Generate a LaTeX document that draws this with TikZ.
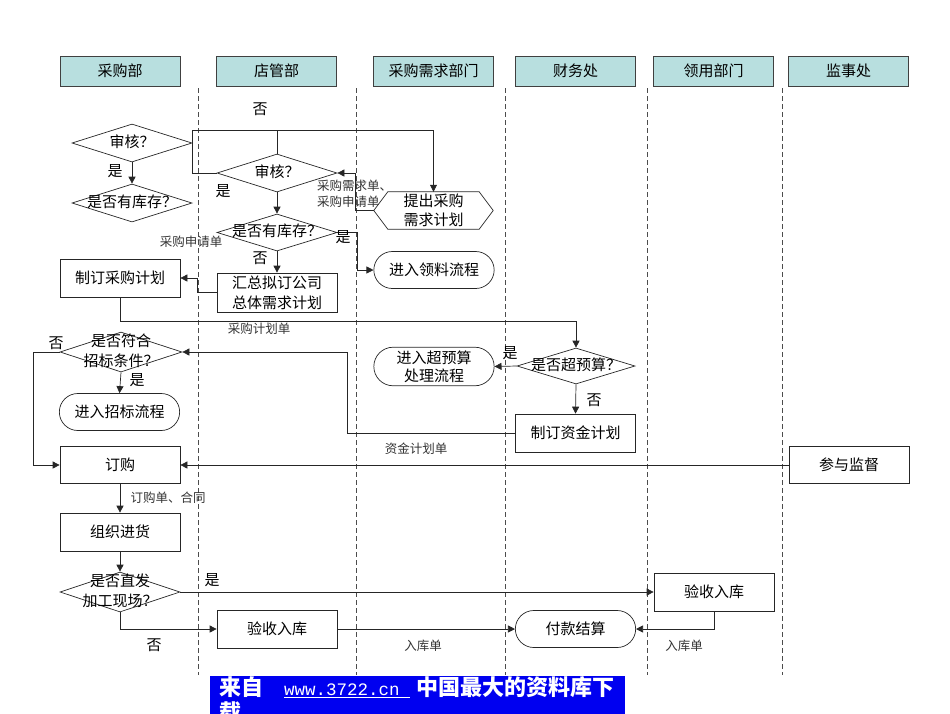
\documentclass[tikz,border=0pt]{standalone}
\usepackage{fontspec}
\setmainfont{Noto Sans CJK SC}
\setmonofont{Liberation Mono}
\usetikzlibrary{positioning,arrows.meta,shapes.geometric,shapes.misc}
\definecolor{laneclr}{HTML}{B8DFDF}
\definecolor{markclr}{HTML}{0000F0}
\newcommand{\dtext}[1]{\makebox[0pt]{\begin{tabular}{@{}c@{}}#1\end{tabular}}}

\begin{document}
\begin{tikzpicture}[
  x=1pt, y=-1pt,
  font=\fontsize{15}{20}\selectfont,
  box/.style={
    rectangle, draw=black!85, line width=0.7pt,
    minimum width=120pt, minimum height=38pt, inner sep=1pt, align=center, fill=white,
  },
  lane/.style={box, fill=laneclr, draw=black!75, minimum height=30pt},
  term/.style={rounded rectangle, draw=black!85, line width=0.7pt, minimum width=127pt, minimum height=37pt, align=center},
  dec/.style={diamond, draw=black!85, line width=0.7pt, minimum width=120pt, minimum height=38pt, inner sep=0pt},
  yesno/.style={inner sep=1pt},
  tag/.style={font=\fontsize{12.5}{16}\selectfont, text=black!80, inner sep=1pt},
  arrow/.style={-{Triangle[length=7pt,width=7pt]}, line width=0.7pt, draw=black!85},
  link/.style={line width=0.7pt, draw=black!85},
  divider/.style={line width=0.7pt, draw=black!70, dash pattern=on 5pt off 3pt},
]
\useasboundingbox (0,0) rectangle (950,713);

% Lane headers
\node[lane] (buy)   at (120,71)   {采购部};
\node[lane] (store) at (276.5,71) {店管部};
\node[lane] (need)  at (433.5,71) {采购需求部门};
\node[lane] (fin)   at (575.5,71) {财务处};
\node[lane] (use)   at (713.5,71) {领用部门};
\node[lane] (audit) at (848.5,71) {监事处};

% Lane dividers
\foreach \lx in {198,356,505,647,782}
  \draw[divider] (\lx,88) -- (\lx,675);

% Purchasing column
\node[dec] (chkA) at (132,143) {\dtext{审核？}};
\node[dec] (stkA) at (132,203) {\dtext{是否有库存？}};
\node[box] (planA) at (120,278) {制订采购计划};
\node[dec, minimum width=122pt] (bidA) at (121,352) {\dtext{是否符合\\招标条件？}};
\node[term] (bidT) at (119.5,412) {进入招标流程};
\node[box, minimum height=37pt] (ordA) at (120,465) {订购};
\node[box] (shipA) at (120,532) {组织进货};
\node[dec] (dirA) at (120,592) {\dtext{是否直发\\加工现场？}};

% Store column
\node[dec] (chkB) at (277,173) {\dtext{审核？}};
\node[dec, minimum height=37pt] (stkB) at (277,232.5) {\dtext{是否有库存？}};
\node[box, minimum height=39pt] (sumB) at (277,292.5) {汇总拟订公司\\总体需求计划};
\node[box] (accB) at (277,629) {验收入库};

% Demand column
\node[minimum width=119pt, minimum height=37pt, align=center, inner sep=0pt,
      font=\fontsize{15}{19}\selectfont] (reqC) at (433.5,210.5) {提出采购\\需求计划};
\draw[link] (reqC.west) -- ([xshift=14pt]reqC.north west) -- ([xshift=-14pt]reqC.north east)
  -- (reqC.east) -- ([xshift=-14pt]reqC.south east) -- ([xshift=14pt]reqC.south west) -- cycle;
\node[term] (pickC) at (434,270) {进入领料流程};
\node[term, font=\fontsize{15}{18}\selectfont] (overC) at (434,366.5) {进入超预算\\处理流程};

% Finance column
\node[dec, minimum width=118pt, minimum height=36pt] (budD) at (576,366) {\dtext{是否超预算？}};
\node[box] (fundD) at (575.5,433) {制订资金计划};
\node[term] (payD) at (575.5,629) {付款结算};

% User and audit columns
\node[box] (accE) at (714,592) {验收入库};
\node[box, minimum height=37pt] (supF) at (849,465) {参与监督};

% Review loop
\coordinate (loopL) at (192,130);
\coordinate (loopR) at (433.5,130);
\draw[link] (chkB.west) -| (loopL) -- (loopR);
\draw[arrow] (loopR) -- (reqC.north);
\draw[link] (chkB.north) -- (chkB.north |- loopL);
\draw[arrow] (chkA.south) -- (stkA.north);
\draw[arrow] (chkB.south) -- (stkB.north);
\draw[arrow] (reqC.west) -- ++(-18,0) |- (chkB.east);

% Stock and plan
\draw[arrow] (stkB.east) -- ++(20,0) |- (pickC.west);
\draw[arrow] (stkB.south) -- (sumB.north);
\draw[arrow] (sumB.west) -- ++(-19,0) |- (planA.east);
\draw[arrow] (planA.south) -- ++(0,24) -| (budD.north);
\draw[arrow] (budD.west) -- (overC.east);
\draw[arrow] (budD.south) -- (fundD.north);
\draw[arrow] (fundD.west) -- ++(-168,0) |- (bidA.east);

% Tender and order
\draw[arrow] (bidA.south) -- (bidT.north);
\draw[arrow] (bidA.west) -- ++(-26,0) |- (ordA.west);
\draw[arrow] (supF.west) -- (ordA.east);
\draw[arrow] (ordA.south) -- (shipA.north);
\draw[arrow] (shipA.south) -- (dirA.north);

% Delivery and payment
\draw[arrow] (dirA.east) -- (accE.west);
\draw[arrow] (dirA.south) |- (accB.west);
\draw[arrow] (accB.east) -- (payD.west);
\draw[arrow] (accE.south) |- (payD.east);

% Branch labels
\node[yesno] (no1)  at (260,109) {否};
\node[yesno] (yes1) at (115,171) {是};
\node[yesno] (yes2) at (223,191) {是};
\node[yesno] (yes3) at (343,237) {是};
\node[yesno] (no2)  at (260,258) {否};
\node[yesno] (yes4) at (510,353) {是};
\node[yesno] (no3)  at (594,400) {否};
\node[yesno] (no4)  at (56,343)  {否};
\node[yesno] (yes5) at (137,380) {是};
\node[yesno] (yes6) at (212,580) {是};
\node[yesno] (no5)  at (154,645) {否};

% Document labels
\node[tag, align=left, anchor=west] (docReq) at (316,194) {采购需求单、\\采购申请单};
\node[tag] (docApp)  at (191,242) {采购申请单};
\node[tag] (docPlan) at (259,329) {采购计划单};
\node[tag] (docFund) at (416,449) {资金计划单};
\node[tag] (docOrd)  at (168,498) {订购单、合同};
\node[tag] (docInB)  at (423,646) {入库单};
\node[tag] (docInE)  at (684,646) {入库单};

% Source banner
\fill[markclr] (210,676) rectangle (625,720);
\node[anchor=north west, inner sep=0pt, text=white, align=left,
      font=\fontsize{22}{25}\selectfont\bfseries] (mark) at (219,676)
  {来自\hspace{21pt}\underline{\fontsize{17.5}{25}\selectfont\mdseries\texttt{www.3722.cn\ }}\hspace{6pt}中国最大的资料库下\\载};

\end{tikzpicture}
\end{document}
